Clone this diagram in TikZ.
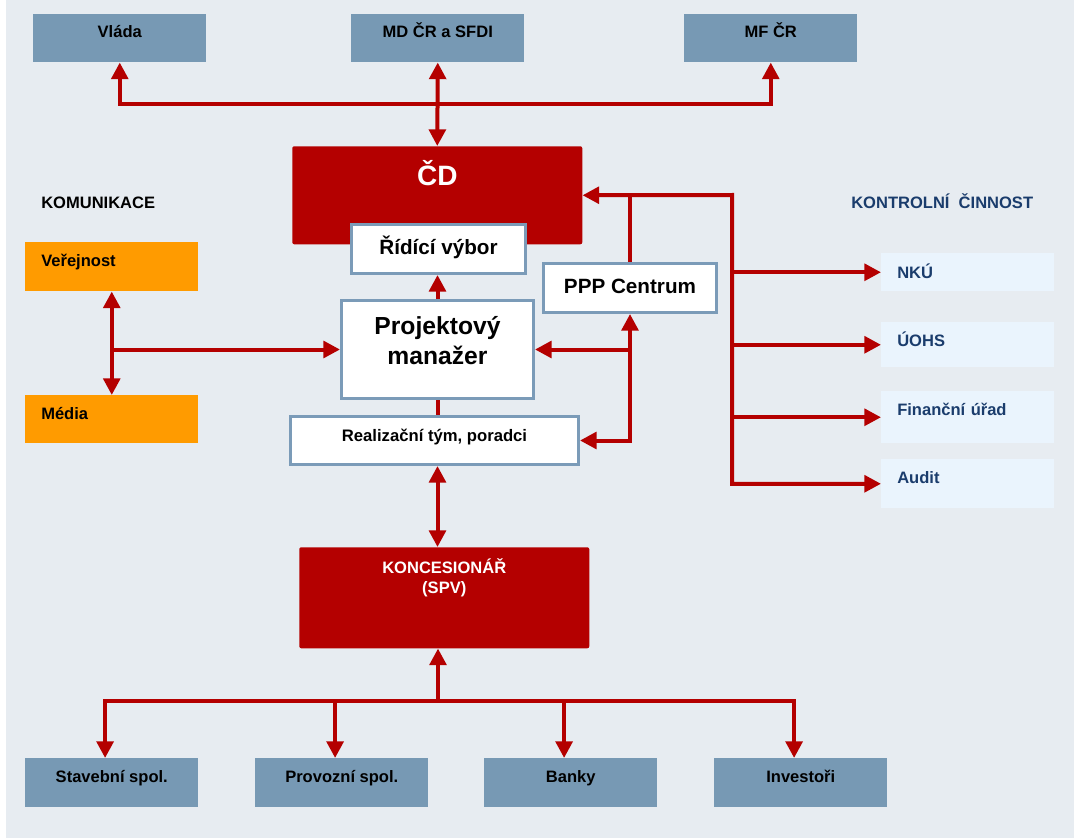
\documentclass[tikz,border=0pt]{standalone}
\usepackage{fontspec}
\setmainfont{Liberation Sans}
\usetikzlibrary{arrows.meta}

\definecolor{pagebg}{HTML}{E7ECF1}
\definecolor{slate}{HTML}{7799B4}
\definecolor{cdred}{HTML}{B40000}
\definecolor{komorange}{HTML}{FF9B00}
\definecolor{ctrlfill}{HTML}{EAF4FD}
\definecolor{frame}{HTML}{7B9BB8}
\definecolor{ctrlblue}{HTML}{1A3C6C}

\tikzset{
  box/.style={anchor=north west, inner ysep=0pt, text height=18pt,
    font=\fontsize{12.4}{15}\selectfont\bfseries},
  slatebox/.style={box, fill=slate, minimum width=129.75pt, text depth=18.75pt},
  orangebox/.style={box, fill=komorange, text width=105.75pt, inner xsep=12pt, align=left},
  ctrlbox/.style={box, fill=ctrlfill, text=ctrlblue, text width=105.75pt, inner xsep=12pt, align=left},
  redbox/.style={box, fill=cdred, text=white, rounded corners=1.5pt, align=center},
  whitebox/.style={box, fill=white, draw=frame, line width=2.25pt, align=center},
  heading/.style={anchor=base west, inner sep=0pt, font=\fontsize{12.4}{15}\selectfont\bfseries},
  link/.style={cdred, line width=3pt},
  arr/.style={link, -{Triangle[length=12.5pt,width=12.5pt]}},
  dblarr/.style={link, {Triangle[length=12.5pt,width=12.5pt]}-{Triangle[length=12.5pt,width=12.5pt]}}
}

\begin{document}
\begin{tikzpicture}[x=0.75pt, y=-0.75pt]
    \useasboundingbox (0,0) rectangle (1074,838);
    \fill[pagebg] (6,0) rectangle (1074,838);

    % Top level
    \node[slatebox, text height=17.25pt] (vlada) at (33,14) {Vláda};
    \node[slatebox, text height=17.25pt] (mdcr) at (351,14) {MD ČR a SFDI};
    \node[slatebox, text height=17.25pt] (mfcr) at (684,14) {MF ČR};

    % Core of the project
    \node[redbox, minimum width=217.5pt, text height=29.25pt, text depth=44.25pt,
      font=\fontsize{21}{25}\selectfont\bfseries] (cd) at (292,146) {ČD};
    \node[whitebox, minimum width=130.5pt, text height=22.5pt, text depth=14.25pt,
      font=\fontsize{15.5}{18}\selectfont\bfseries] (rv) at (350,223) {Řídící výbor};
    \node[whitebox, minimum width=129.75pt, text height=22.5pt, text depth=14.25pt,
      font=\fontsize{15.5}{18}\selectfont\bfseries] (ppp) at (542,262) {PPP Centrum};
    \node[whitebox, minimum width=144pt, text height=48pt, text depth=25.5pt,
      font=\fontsize{18.5}{22.5}\selectfont\bfseries] (pm) at (340,299) {Projektový\\manažer};
    \node[whitebox, minimum width=216pt, text height=18.75pt, text depth=17.25pt,
      font=\fontsize{12.5}{15}\selectfont\bfseries] (rt) at (289,415) {Realizační tým, poradci};
    \node[redbox, minimum width=217.5pt, text height=34.5pt, text depth=41.25pt] (konc) at (299,547) {KONCESIONÁŘ\\(SPV)};

    % Communication
    \node[heading] (komunikace) at (41,209) {KOMUNIKACE};
    \node[orangebox, text depth=18.75pt] (verejnost) at (25,242) {Veřejnost};
    \node[orangebox, text depth=18pt] (media) at (25,395) {Média};

    % Control
    \node[heading, text=ctrlblue] (kontrola) at (851,209) {KONTROLNÍ\ \ ČINNOST};
    \node[ctrlbox, text height=18.75pt, text depth=9.75pt] (nku) at (881,253) {NKÚ};
    \node[ctrlbox, text depth=15.75pt] (uohs) at (881,322) {ÚOHS};
    \node[ctrlbox, text depth=21pt] (fu) at (881,391) {Finanční úřad};
    \node[ctrlbox, text depth=18.75pt] (audit) at (881,459) {Audit};

    % Bottom level
    \node[slatebox] (stavebni) at (25,758) {Stavební spol.};
    \node[slatebox] (provozni) at (255,758) {Provozní spol.};
    \node[slatebox] (banky) at (484,758) {Banky};
    \node[slatebox] (investori) at (714,758) {Investoři};

    % Connectors
    \coordinate (topbus) at (mdcr.south |- 0,104);
    \draw[dblarr] (mdcr.south) -- (cd.north);
    \draw[arr] (topbus) -| (vlada.south);
    \draw[arr] (topbus) -| (mfcr.south);

    \coordinate (ctrl) at (732,195);
    \draw[dblarr] (cd.east) -- (ctrl) |- (audit.west);
    \draw[link] (ppp.north) -- (ppp.north |- ctrl);
    \foreach \dest in {nku,uohs,fu}
        \draw[arr] (ctrl |- \dest.west) -- (\dest.west);

    \draw[dblarr] (rt.east) -| (ppp.south);
    \draw[arr] (ppp.south |- pm.east) -- (pm.east);

    \draw[dblarr] (verejnost.south) -- (media.north);
    \draw[arr] (verejnost.south |- pm.west) -- (pm.west);

    \draw[arr] (pm.north) -- (pm.north |- rv.south);
    \draw[link] (pm.south) -- (pm.south |- rt.north);
    \draw[dblarr] (pm.south |- rt.south) -- (pm.south |- konc.north);

    \coordinate (botbus) at (438,701);
    \draw[arr] (botbus) -- (botbus |- konc.south);
    \foreach \dest in {stavebni,provozni,banky,investori}
        \draw[arr] (botbus) -| ([xshift=-5pt]\dest.north);
\end{tikzpicture}
\end{document}
